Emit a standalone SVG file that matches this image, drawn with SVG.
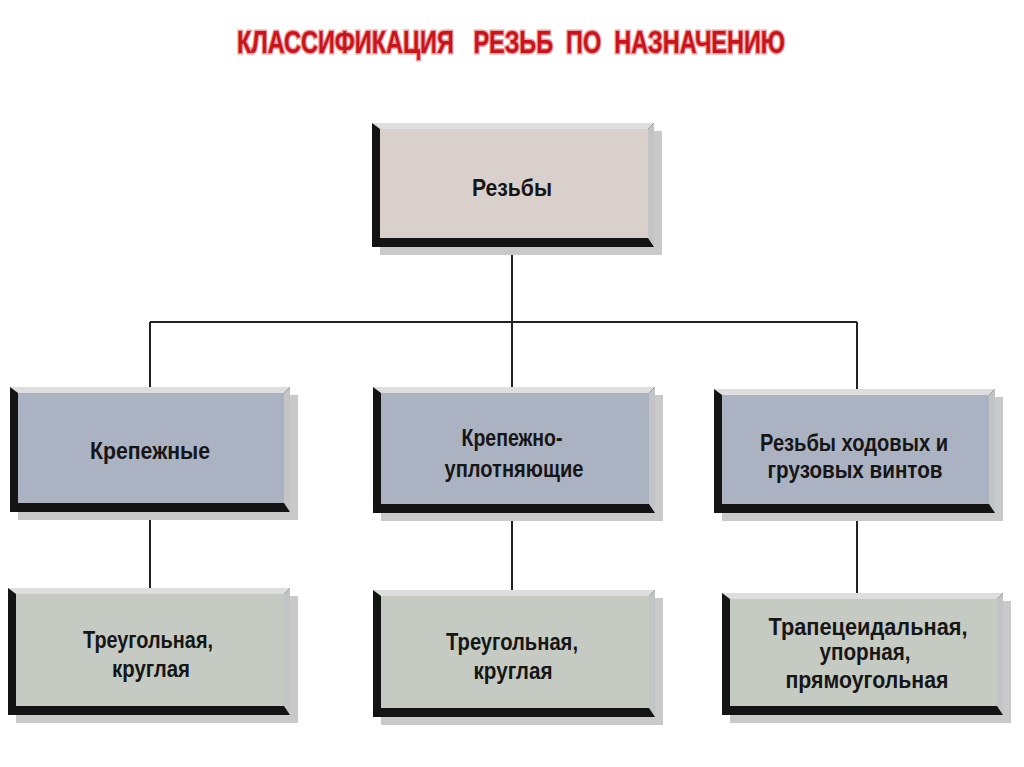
<svg xmlns="http://www.w3.org/2000/svg" width="1024" height="767" viewBox="0 0 1024 767">
<defs>
<style>
.shadow{fill:#c9c9c9}
.dark{fill:#141414}
.tb{fill:#dedede}
.rb{fill:#c2c4c6}
.f1{fill:#d9d0cb}
.f2{fill:#abb2c2}
.f3{fill:#c5cac3}
.lbl{font-family:"Liberation Sans",Arial,sans-serif;font-weight:bold;font-size:24px;fill:#161616;text-anchor:middle}
.title{font-family:"Liberation Sans",Arial,sans-serif;font-weight:bold;font-size:31px;fill:#c8141c;stroke:#f0a0a0;stroke-width:3;paint-order:stroke}
.conn{stroke:#222;stroke-width:2;fill:none}
</style>
</defs>
<rect width="1024" height="767" fill="#ffffff"/>
<text class="title" x="237" y="53" textLength="548" lengthAdjust="spacingAndGlyphs" xml:space="preserve">КЛАССИФИКАЦИЯ   РЕЗЬБ  ПО  НАЗНАЧЕНИЮ</text>

<g id="connectors">
<path class="conn" d="M512 246 V322 M150 322 H857 M150 322 V387 M512 322 V387 M857 322 V389"/>
<path class="conn" d="M150 512 V588 M512 513 V590 M857 513 V593"/>
</g>

<g id="n-rezby">
<rect class="shadow" x="380" y="131" width="282" height="124"/>
<rect class="dark" x="372" y="123" width="282" height="124"/>
<polygon class="tb" points="372,123 654,123 648,129 380,129"/>
<polygon class="rb" points="654,123 654,247 648,238 648,129"/>
<rect class="f1" x="380" y="129" width="268" height="109"/>
<text class="lbl" x="512" y="196" textLength="80" lengthAdjust="spacingAndGlyphs">Резьбы</text>
</g>

<g id="n-krep">
<rect class="shadow" x="18" y="395" width="280" height="125"/>
<rect class="dark" x="10" y="387" width="280" height="125"/>
<polygon class="tb" points="10,387 290,387 284,393 18,393"/>
<polygon class="rb" points="290,387 290,512 284,503 284,393"/>
<rect class="f2" x="18" y="393" width="266" height="110"/>
<text class="lbl" x="150" y="459" textLength="120" lengthAdjust="spacingAndGlyphs">Крепежные</text>
</g>

<g id="n-krep-upl">
<rect class="shadow" x="381" y="395" width="282" height="126"/>
<rect class="dark" x="373" y="387" width="282" height="126"/>
<polygon class="tb" points="373,387 655,387 649,393 381,393"/>
<polygon class="rb" points="655,387 655,513 649,504 649,393"/>
<rect class="f2" x="381" y="393" width="268" height="111"/>
<text class="lbl" x="512" y="446" textLength="101" lengthAdjust="spacingAndGlyphs">Крепежно-</text>
<text class="lbl" x="514" y="477" textLength="139" lengthAdjust="spacingAndGlyphs">уплотняющие</text>
</g>

<g id="n-hod">
<rect class="shadow" x="722" y="397" width="281" height="124"/>
<rect class="dark" x="714" y="389" width="281" height="124"/>
<polygon class="tb" points="714,389 995,389 989,395 722,395"/>
<polygon class="rb" points="995,389 995,513 989,504 989,395"/>
<rect class="f2" x="722" y="395" width="267" height="109"/>
<text class="lbl" x="854" y="451" textLength="188" lengthAdjust="spacingAndGlyphs">Резьбы ходовых и</text>
<text class="lbl" x="855" y="478" textLength="175" lengthAdjust="spacingAndGlyphs">грузовых винтов</text>
</g>

<g id="n-tri1">
<rect class="shadow" x="16" y="596" width="282" height="127"/>
<rect class="dark" x="8" y="588" width="282" height="127"/>
<polygon class="tb" points="8,588 290,588 284,594 16,594"/>
<polygon class="rb" points="290,588 290,715 284,706 284,594"/>
<rect class="f3" x="16" y="594" width="268" height="112"/>
<text class="lbl" x="148" y="648" textLength="130" lengthAdjust="spacingAndGlyphs">Треугольная,</text>
<text class="lbl" x="151" y="677" textLength="78" lengthAdjust="spacingAndGlyphs">круглая</text>
</g>

<g id="n-tri2">
<rect class="shadow" x="381" y="598" width="282" height="127"/>
<rect class="dark" x="373" y="590" width="282" height="127"/>
<polygon class="tb" points="373,590 655,590 649,596 381,596"/>
<polygon class="rb" points="655,590 655,717 649,708 649,596"/>
<rect class="f3" x="381" y="596" width="268" height="112"/>
<text class="lbl" x="512" y="650" textLength="132" lengthAdjust="spacingAndGlyphs">Треугольная,</text>
<text class="lbl" x="513" y="679" textLength="79" lengthAdjust="spacingAndGlyphs">круглая</text>
</g>

<g id="n-trap">
<rect class="shadow" x="730" y="601" width="281" height="122"/>
<rect class="dark" x="722" y="593" width="281" height="122"/>
<polygon class="tb" points="722,593 1003,593 997,599 730,599"/>
<polygon class="rb" points="1003,593 1003,715 997,706 997,599"/>
<rect class="f3" x="730" y="599" width="267" height="107"/>
<text class="lbl" x="868" y="635" textLength="199" lengthAdjust="spacingAndGlyphs">Трапецеидальная,</text>
<text class="lbl" x="865" y="660" textLength="91" lengthAdjust="spacingAndGlyphs">упорная,</text>
<text class="lbl" x="867" y="688" textLength="163" lengthAdjust="spacingAndGlyphs">прямоугольная</text>
</g>
</svg>
